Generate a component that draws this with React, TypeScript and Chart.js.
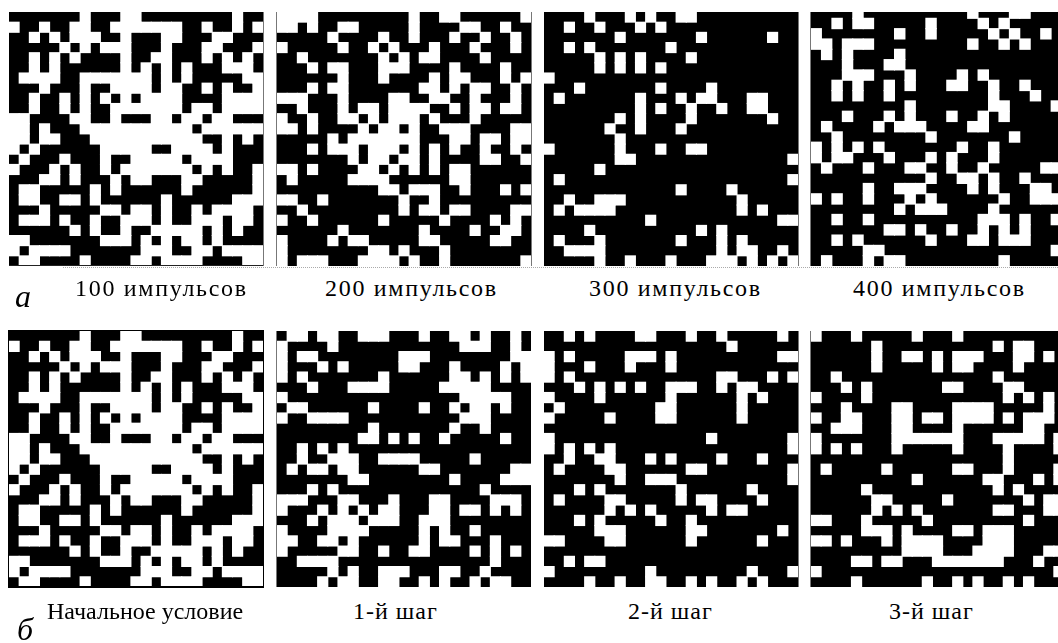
import React, { useEffect, useRef } from "react";
import { Chart, registerables } from "chart.js";

Chart.register(...registerables);

// Each row lists the white cell columns of one grid row (top row first).
const initialState = [
  "7 11-12 22", "0 3 6-7 10-16 19 22 24", "2 4 6-8 11 15-16 20-21", "5 7 9-11 15 19-20 24",
  "2 4 6 11 14-15 19 21 23", "2 4 11 13 15 17 21-23", "1-4 7-13 15 17 23-24", "3 7 10-13 15-16 19 21 24",
  "2 5 7 9 11 13-16 21-24", "2 5 7 10-16 18-19 21-24", "0-1 6-7 10 14-15 17-18 20-21", "0-1 3 7-17 19-24",
  "0-1 3-4 8-18 21 23", "0 2 9-13 16-19 21", "1 5 9 12-16 18-21", "0 4 6 9 11-17 19 21 24",
  "3-4 6 10 12-13 17-18 24", "1-2 8 10 17 24", "1-2 5-6 8 15 22-24", "3 9-10 12-13 15 18 20-23",
  "1-3 5 8 11-13 15 18-20 22-23", "6 8 11 14-18 20 22", "0-1 9-11 13 15 17-18 20", "0 2-5 13-15 18-19 21-24",
  "1-2 7 12-13 15-18 23-24",
];
const pulses200 = [
  "0-3 13 16-17 24", "0-1 3 6-7 13 18-19 22", "5 10 13 17 20 23", "0 6 9 11 15 19 23",
  "2 10 12 14-15 20", "3 5-6 10-12 17 22", "6 10 15 17-18 22 24", "3 5-6 14-15 17 19-20 23",
  "0-2 6 11-12 15-16 19 23", "2 6 8-9 11-14 17 19-20 22-23", "0 3 6-7 9 11-13 15 19", "0-1 3 8 10-11 13 16-18 23-24",
  "5 7-13 17-18 20-21 23-24", "3 5-7 9-11 13 15 17 20 23", "7 9-10 12-13 15 20-21 24", "0-1 3 8-9 11 13 15 17-18",
  "1 7-10 17-18", "10-11 13-15 18 22 24", "0-1 4 12 15", "2 12 14-15 17-18 23-24",
  "0 3 10 16 21 23", "6 14 19 22-23", "0 5 7-8 14-15 21-22", "0 9-10 12 16",
  "0 2-4 8-11 13 16 24",
];
const pulses300 = [
  "4 8 10 13-14", "2 5 9 11", "7 15 22", "2 4 12",
  "5 7 9 14", "5 7 9 11", "0", "3 11 16",
  "1 9 13 15-16 20-21", "9 11 14 17 20-21", "7 9 14 22", "6 9 13",
  "7", "0 7 11 14-15", "7-8 24", "5",
  "1 24", "13 18", "2 5-7 19", "1 3-6 19 21",
  "10 23-24", "4 15 17", "1 5 13 17 19", "2-5 17 19-20 23",
  "5 8 12 16-18 20 22 24",
];
const pulses400 = [
  "4 15 19-20", "2 4-5 11 16 18", "0 8 11 17 19 22", "0-1 3-5 15 18 20",
  "1 3 8", "3 7-8", "3-5 9 14 16", "2 4 7 9 13-14 17 20",
  "2 4 7 17 21", "9 17-18 23", "3 7 9 13 16 18", "1 6 8-10 15-16",
  "2 11 19", "0 2 4 6 14 17", "0 2-3 7 11 13 17", "1 5 9-10 13 16 22-23",
  "11 14-15 17 20", "5 8-10 15 17 21-22", "0 2 5 9 11 18 21-23", "8 10-12 17",
  "2 5 16-18 20 23", "7-8 10 13 16 18 20", "2 4 11 15-16 18-20", "5-6 23",
  "1 5 7-8 18",
];
const step1 = [
  "1-2 4-5 8-10 14 17-18 20 23", "0 5 18-20 23", "0 2-3 12-14 23-24", "0 4 6 12-13 17 22 24",
  "0 2 10 17-18 20 22 24", "3 7-10 16-20", "0 18-22", "1-2 9 14 17 19-20 22",
  "0 3-6 18-20", "9 17 20", "8-9 11 13 16 22", "2 4 6",
  "2 5-7 10-13 19", "1 3-4 6-7 14-15 23-24", "7-8 17 22-24", "3 5 20",
  "0-2 6-7 11 15-16 21-23", "0 4 6 8 10-11 15-16 18-19 21 23", "3 5-7 9-11 14-16", "0 5-8 14 16 19",
  "0-1 4-5 7 14 16-17 21", "0 6-7 10 13-14 19 21 23", "2-5 21", "5 7 10-12 16-17 20",
  "4 6-7 10-11 14 16 19 21-22",
];
const step2 = [
  "2 4 9-10 14 17 23", "18", "0 2 8-10 12 23-24", "0 4 8 12",
  "0 2 17-18 22 24", "3 5 7 9 12-14 17 19-20", "0 5 12 19 21", "1 11-12 19",
  "0 6 11-12 19", "", "0 16 24", "0 2 4 6 24",
  "2 5-6 10 12 17 21", "1 6-7 14-15 24", "7 10-12 24", "3 5 13 20",
  "1 6-7 13 15-16 21", "6 8 10 16 18-19", "3 5 11 14", "5-7 14-15 23",
  "0-1 6-7 14 21", "", "2 4-5", "0 10 20 24",
  "4 7 10-11 14 16 19 21",
];
const step3 = [
  "0 4 10 14", "6 18 20-21", "6 9-10 12 14-16 20-21 23", "6 12 14-15 20",
  "2 18", "3 5 13-14 19-20", "0 5 19 21 23", "3 8-9 14-17 23",
  "0 3-4 8-9 11-12 14-17 19 21-23", "2-4 8-9 14 21-22", "0 8-14 18-22 24", "0 2 4 8 14 19 24",
  "19", "1 7 14-15 19 24", "10 17-18 22 24", "5 18 20",
  "6-7 13 21 23-24", "6 8 10 18-19 23-24", "0-1 5 11 21", "5-7 9 14-15 17-19",
  "0-1 3 7 9-12 17-19", "9-12 16-19 23-24", "4-5 7-8 12-18 22", "0 24",
  "4 11 14 16 19 21",
];

const topCaptions = ["100 импульсов", "200 импульсов", "300 импульсов", "400 импульсов"];
const bottomCaptions = ["Начальное условие", "1-й шаг", "2-й шаг", "3-й шаг"];
const gridSize = 25;

function cellsOf(rows: string[]) {
  const cells: { x: number; y: number }[] = [];
  rows.forEach((row, r) => {
    row.split(" ").filter(Boolean).forEach((part) => {
      const [a, b] = part.split("-").map(Number);
      for (let c = a; c <= (b ?? a); c++) cells.push({ x: c + 0.5, y: r + 0.5 });
    });
  });
  return cells;
}

const blackBackground = {
  id: "blackBackground",
  beforeDraw(chart: any) {
    const { ctx, chartArea: a } = chart;
    ctx.save();
    ctx.fillStyle = "#000";
    ctx.fillRect(a.left, a.top, a.width, a.height);
    ctx.restore();
  },
};

function Panel({ rows, left, top, width, height, clipTop = top, edge = "" }: any) {
  const ref = useRef<HTMLCanvasElement>(null);
  useEffect(() => {
    const pitch = Math.max(width, height) / gridSize;
    const chart = new Chart(ref.current!, {
      type: "scatter",
      data: {
        datasets: [{
          data: cellsOf(rows),
          pointStyle: "rect",
          pointRadius: (pitch + 1) / Math.SQRT2,
          pointBorderWidth: 0,
          pointBackgroundColor: "#fff",
          showLine: false,
        }],
      },
      options: {
        animation: false,
        responsive: false,
        layout: { padding: 0, autoPadding: false },
        events: [],
        plugins: { legend: { display: false }, tooltip: { enabled: false }, title: { display: false } },
        scales: {
          x: { type: "linear", min: 0, max: gridSize, display: false },
          y: { type: "linear", min: 0, max: gridSize, reverse: true, display: false },
        },
      },
      plugins: [blackBackground],
    } as any);
    return () => chart.destroy();
  }, []);
  const frame: React.CSSProperties = {
    position: "absolute", left, top: clipTop, width: Math.min(width, 1058 - left), height: height - (clipTop - top), overflow: "hidden",
  };
  return (
    <>
      <div style={frame}>
        <canvas ref={ref} width={width} height={height} style={{ position: "absolute", left: 0, top: top - clipTop, display: "block" }} />
      </div>
      {edge.includes("l") && <div style={{ position: "absolute", left: left - 1, top: clipTop, width: 1, height: height - (clipTop - top), background: "#777" }} />}
      {edge.includes("r") && <div style={{ position: "absolute", left: left + width, top: clipTop, width: 1, height: height - (clipTop - top), background: "#777" }} />}
    </>
  );
}

function Caption({ text, left, top, size = 24, italic = false, spacing = 0 }: any) {
  return (
    <div style={{
      position: "absolute", left, top, fontFamily: "'Liberation Serif', serif", fontSize: size,
      fontStyle: italic ? "italic" : "normal", letterSpacing: spacing, lineHeight: 1, whiteSpace: "pre", color: "#000",
    }}>{text}</div>
  );
}

export default function App() {
  return (
    <div style={{ position: "absolute", left: 0, top: 0, width: 1058, height: 643, overflow: "hidden", background: "#fff" }}>
      <Panel rows={initialState} left={9} top={12} width={254} height={254} edge="r" />
      <Panel rows={pulses200} left={277} top={12} width={254} height={254} edge="lr" />
      <Panel rows={pulses300} left={544} top={12} width={254} height={254} edge="r" />
      <Panel rows={pulses400} left={811} top={8} clipTop={12} width={261} height={258} edge="l" />
      <div style={{ position: "absolute", left: 9, top: 265, width: 254, height: 1, background: "#222" }} />
      <div style={{ position: "absolute", left: 63, top: 267, width: 995, borderTop: "1px dotted #aaa" }} />

      <Panel rows={initialState} left={9} top={331} width={254} height={256} />
      <Panel rows={step1} left={277} top={331} width={254} height={256} edge="l" />
      <Panel rows={step2} left={544} top={331} width={254} height={256} edge="r" />
      <Panel rows={step3} left={811} top={331} width={253} height={256} edge="l" />
      <div style={{ position: "absolute", left: 8, top: 330, width: 254, height: 256, border: "1px solid #000" }} />
      <div style={{ position: "absolute", left: 8, top: 586, width: 256, height: 2, background: "#000" }} />

      <Caption text={topCaptions[0]} left={75} top={276} spacing={1.7} />
      <Caption text={topCaptions[1]} left={325} top={276} spacing={1.7} />
      <Caption text={topCaptions[2]} left={589} top={276} spacing={1.7} />
      <Caption text={topCaptions[3]} left={853} top={276} spacing={1.7} />
      <Caption text="а" left={15} top={280} size={32} italic />

      <Caption text={bottomCaptions[0]} left={47} top={599} />
      <Caption text={bottomCaptions[1]} left={353} top={599} spacing={1} />
      <Caption text={bottomCaptions[2]} left={628} top={599} spacing={1} />
      <Caption text={bottomCaptions[3]} left={889} top={599} spacing={1} />
      <Caption text="б" left={17} top={613} size={32} italic />
    </div>
  );
}
